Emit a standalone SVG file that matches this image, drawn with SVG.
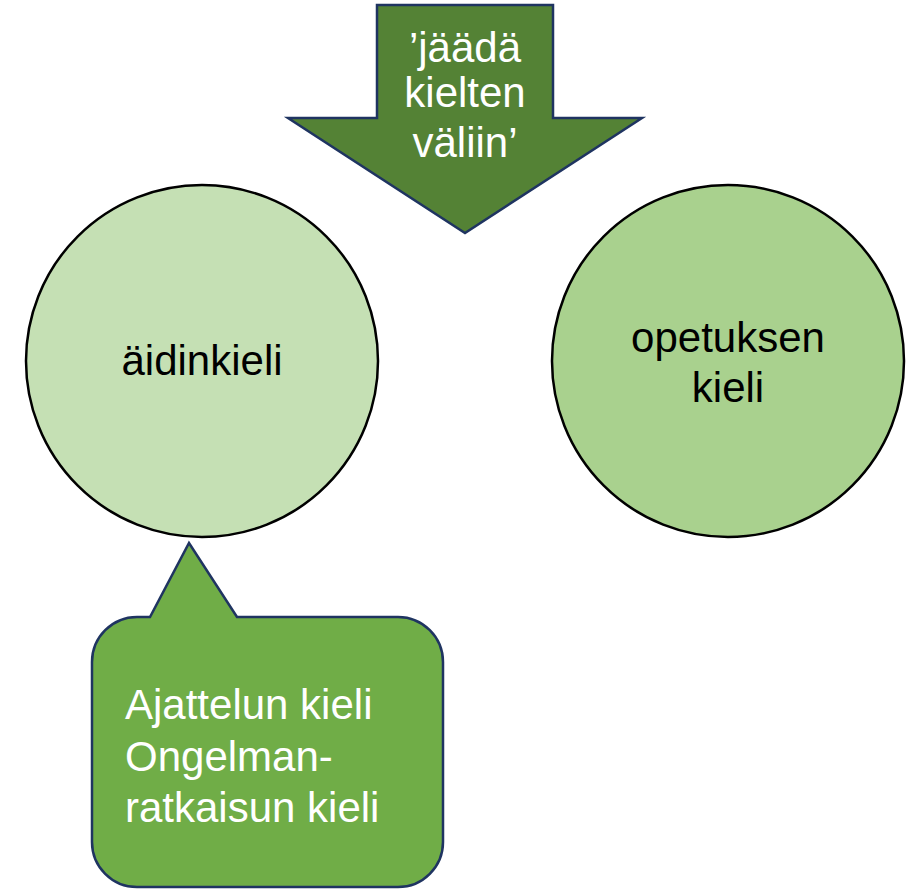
<svg xmlns="http://www.w3.org/2000/svg" width="915" height="889" viewBox="0 0 915 889">
<style>
text{font-family:"Liberation Sans",Arial,sans-serif;font-size:42px;text-anchor:middle}
.w{fill:#ffffff}
.b{fill:#000000}
.circ{stroke:#000000;stroke-width:2.5}
.navy{stroke:#1f3461;stroke-width:2.5;stroke-linejoin:miter}
</style>
<rect width="915" height="889" fill="#ffffff"/>
<g id="connectors"></g>
<g id="arrow">
<polygon class="navy" fill="#548235" points="377,5 553,5 553,118 642,118 465,233 288,118 377,118"/>
<text class="w" x="465" y="62">’jäädä</text>
<text class="w" x="465" y="107">kielten</text>
<text class="w" x="465" y="157">väliin’</text>
</g>
<g id="aidinkieli">
<circle class="circ" cx="202" cy="361" r="176" fill="#c5e0b4"/>
<text class="b" x="202" y="375">äidinkieli</text>
</g>
<g id="opetuksen">
<circle class="circ" cx="728" cy="361" r="176" fill="#a9d18e"/>
<text class="b" x="728" y="352">opetuksen</text>
<text class="b" x="728" y="402">kieli</text>
</g>
<g id="callout">
<path class="navy" fill="#70ad47" d="M137,617 L150,617 L189,543 L237,617 L398,617 A45,45 0 0 1 443,662 L443,842 A45,45 0 0 1 398,887 L137,887 A45,45 0 0 1 92,842 L92,662 A45,45 0 0 1 137,617 Z"/>
<text class="w" x="125" y="719" style="text-anchor:start">Ajattelun kieli</text>
<text class="w" x="125" y="771" style="text-anchor:start">Ongelman-</text>
<text class="w" x="125" y="822" style="text-anchor:start">ratkaisun kieli</text>
</g>
</svg>
